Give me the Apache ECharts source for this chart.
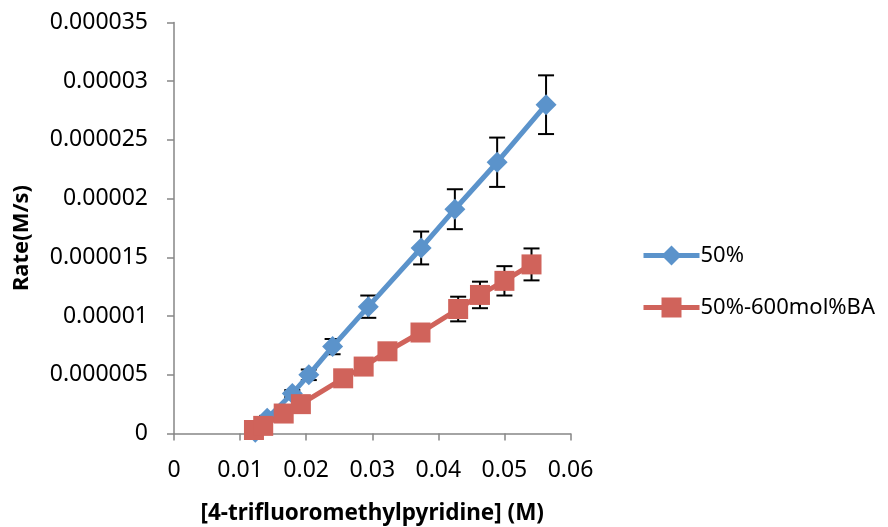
<!DOCTYPE html>
<html>
<head>
<meta charset="utf-8">
<script src="https://cdn.jsdelivr.net/npm/echarts@6/dist/echarts.min.js"></script>
<style>html,body{margin:0;padding:0;background:#fff}#c{width:888px;height:527px}</style>
</head>
<body>
<div id="c"></div>
<script>
const seriesNames = ['50%', '50%-600mol%BA'];
const xTickLabels = ['0', '0.01', '0.02', '0.03', '0.04', '0.05', '0.06'];
const yTickLabels = ['0', '0.000005', '0.00001', '0.000015', '0.00002', '0.000025', '0.00003', '0.000035'];

const blueX = [0.0123, 0.0141, 0.0179, 0.0204, 0.0240, 0.0294, 0.0374, 0.0425, 0.0489, 0.0563];
const blueY = [0.0000001, 0.0000013, 0.0000034, 0.0000050, 0.0000074, 0.0000108, 0.0000158, 0.0000191, 0.0000231, 0.0000280];
const blueErr = [0.0000001, 0.0000002, 0.0000003, 0.00000045, 0.00000065, 0.00000095, 0.0000014, 0.0000017, 0.0000021, 0.0000025];

const redX = [0.0121, 0.0135, 0.0166, 0.0192, 0.0256, 0.0287, 0.0323, 0.0373, 0.0430, 0.0463, 0.0500, 0.0541];
const redY = [0.0000003, 0.00000065, 0.0000017, 0.0000025, 0.0000047, 0.0000057, 0.0000070, 0.0000086, 0.0000106, 0.0000118, 0.0000130, 0.0000144];
const redErr = [0.00000005, 0.0000001, 0.0000002, 0.0000002, 0.0000003, 0.0000003, 0.0000004, 0.0000006, 0.00000105, 0.00000113, 0.00000125, 0.00000136];

const blueColor = '#5B93CB';
const redColor = '#D0635B';
const font = 'Noto Sans';

function pairs(xs, ys) { return xs.map((x, i) => [x, ys[i]]); }
function errData(xs, ys, es) { return xs.map((x, i) => [x, ys[i] - es[i], ys[i] + es[i]]); }

function errRender(params, api) {
  const x = api.value(0);
  const lo = api.coord([x, api.value(1)]);
  const hi = api.coord([x, api.value(2)]);
  const w = 8;
  const st = { stroke: '#000', lineWidth: 2 };
  return {
    type: 'group',
    children: [
      { type: 'line', shape: { x1: lo[0], y1: lo[1], x2: hi[0], y2: hi[1] }, style: st },
      { type: 'line', shape: { x1: lo[0] - w, y1: lo[1], x2: lo[0] + w, y2: lo[1] }, style: st },
      { type: 'line', shape: { x1: hi[0] - w, y1: hi[1], x2: hi[0] + w, y2: hi[1] }, style: st }
    ]
  };
}

const chart = echarts.init(document.getElementById('c'), null, { renderer: 'canvas' });
chart.setOption({
  animation: false,
  backgroundColor: '#fff',
  textStyle: { fontFamily: font },
  grid: { left: 174, right: 317.5, top: 22.5, bottom: 93.5, containLabel: false, outerBoundsMode: 'none' },
  legend: {
    orient: 'vertical',
    left: 636,
    top: 239.5,
    itemWidth: 56,
    itemHeight: 25,
    itemGap: 30,
    data: seriesNames,
    lineStyle: { width: 5 },
    textStyle: { fontFamily: font, fontSize: 22, color: '#000', lineHeight: 22, padding: [0, 0, 0, -4] }
  },
  xAxis: {
    type: 'value',
    min: 0, max: 0.06, interval: 0.01,
    name: '[4-trifluoromethylpyridine] (M)',
    nameLocation: 'middle',
    nameGap: 69,
    nameTextStyle: { fontFamily: font, fontSize: 22.5, fontWeight: 'bold', color: '#000' },
    axisLine: { show: true, lineStyle: { color: '#868686', width: 1.5 } },
    axisTick: { show: true, inside: false, length: 7, lineStyle: { color: '#868686', width: 1.5 } },
    axisLabel: { fontFamily: font, fontSize: 23, color: '#000', margin: 25, formatter: (v, i) => xTickLabels[i] },
    splitLine: { show: false }
  },
  yAxis: {
    type: 'value',
    min: 0, max: 0.000035, interval: 0.000005,
    name: 'Rate(M/s)',
    nameLocation: 'middle',
    nameGap: 141,
    nameRotate: 90,
    nameTextStyle: { fontFamily: font, fontSize: 22, fontWeight: 'bold', color: '#000', padding: [0, 20, 0, 0] },
    axisLine: { show: true, lineStyle: { color: '#868686', width: 1.5 } },
    axisTick: { show: true, inside: false, length: 7, lineStyle: { color: '#868686', width: 1.5 } },
    axisLabel: { fontFamily: font, fontSize: 23, color: '#000', margin: 26, formatter: (v, i) => yTickLabels[i] },
    splitLine: { show: false }
  },
  series: [
    {
      type: 'custom', name: 'errBlue', renderItem: errRender,
      data: errData(blueX, blueY, blueErr), z: 1, silent: true,
      encode: { x: 0, y: [1, 2] }
    },
    {
      type: 'custom', name: 'errRed', renderItem: errRender,
      data: errData(redX, redY, redErr), z: 1, silent: true,
      encode: { x: 0, y: [1, 2] }
    },
    {
      name: seriesNames[0], type: 'line', z: 3,
      data: pairs(blueX, blueY),
      symbol: 'diamond', symbolSize: 21,
      itemStyle: { color: blueColor },
      lineStyle: { color: blueColor, width: 5 }
    },
    {
      name: seriesNames[1], type: 'line', z: 4,
      data: pairs(redX, redY),
      symbol: 'rect', symbolSize: 20,
      itemStyle: { color: redColor },
      lineStyle: { color: redColor, width: 5 }
    }
  ]
});
</script>
</body>
</html>
